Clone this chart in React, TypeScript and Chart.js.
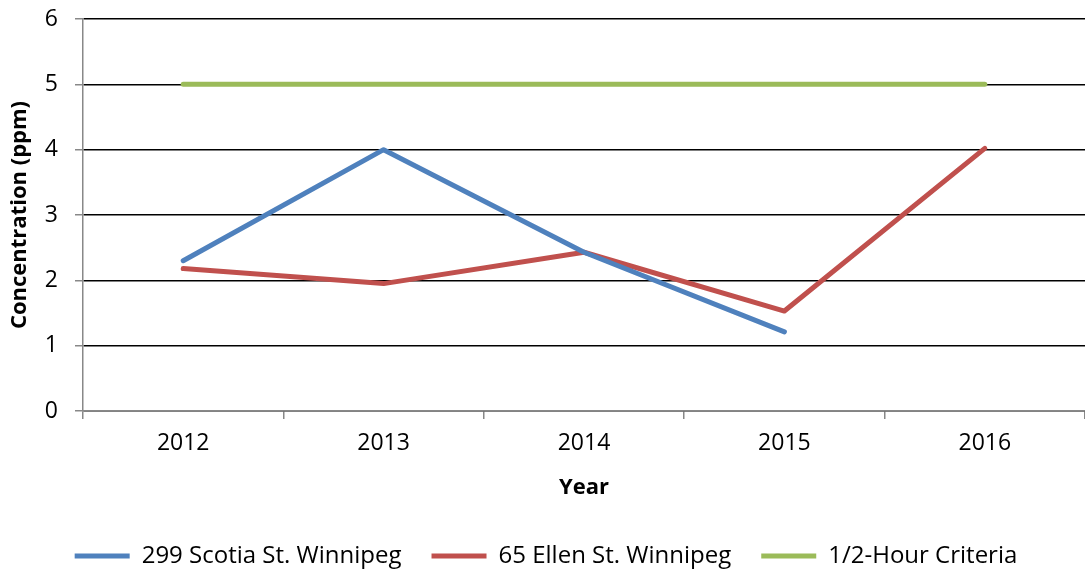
import React, { useEffect, useRef } from "react";
import { Chart, registerables } from "chart.js";

Chart.register(...registerables);

const years = ["2012", "2013", "2014", "2015", "2016"];
const scotia = [2.3, 4.0, 2.43, 1.21, null];
const ellen = [2.18, 1.95, 2.43, 1.53, 4.02];
const criteria = [5, 5, 5, 5, 5];
const yTicks = [0, 1, 2, 3, 4, 5, 6];

export default function App() {
  const ref = useRef<HTMLCanvasElement>(null);
  useEffect(() => {
    document.body.style.margin = "0";
    const font = "'Open Sans', 'Noto Sans', sans-serif";
    const chart = new Chart(ref.current!, {
      type: "line",
      data: {
        labels: years,
        datasets: [
          { label: "299 Scotia St. Winnipeg", data: scotia, borderColor: "#4F81BD", backgroundColor: "#4F81BD", borderWidth: 5, pointRadius: 0, borderCapStyle: "round", borderJoinStyle: "round" },
          { label: "65 Ellen St. Winnipeg", data: ellen, borderColor: "#C0504D", backgroundColor: "#C0504D", borderWidth: 5, pointRadius: 0, borderCapStyle: "round", borderJoinStyle: "round" },
          { label: "1/2-Hour Criteria", data: criteria, borderColor: "#9BBB59", backgroundColor: "#9BBB59", borderWidth: 5, pointRadius: 0, borderCapStyle: "round", borderJoinStyle: "round" },
        ],
      },
      options: {
        animation: false,
        responsive: false,
        layout: { padding: { top: 19, right: 0, left: 7, bottom: -9 } },
        plugins: {
          tooltip: { enabled: false },
          legend: {
            position: "bottom",
            labels: {
              color: "#000",
              font: { family: font, size: 24 },
              boxWidth: 55,
              boxHeight: 5,
              padding: 30,
              generateLabels: (c: any) =>
                c.data.datasets.map((d: any, i: number) => ({
                  text: d.label,
                  fillStyle: d.borderColor,
                  strokeStyle: d.borderColor,
                  lineWidth: 0,
                  datasetIndex: i,
                  hidden: false,
                  fontColor: "#000",
                })),
            },
          },
        },
        scales: {
          x: {
            type: "category",
            offset: true,
            grid: { offset: true, drawOnChartArea: false, drawTicks: true, tickLength: 8, color: "#888", lineWidth: 1.5 },
            border: { color: "#888", width: 1.5 },
            ticks: { color: "#000", font: { family: font, size: 23 }, padding: 11 },
            title: { display: true, text: "Year", color: "#000", font: { family: font, size: 22, weight: "bold" }, padding: { top: 6, bottom: 13 } },
          },
          y: {
            min: 0,
            max: 6,
            afterBuildTicks: (s: any) => { s.ticks = yTicks.map((v) => ({ value: v })); },
            afterFit: (s: any) => { s.width = 76; s.paddingTop = 0; },
            grid: { color: "#000", lineWidth: 1.5, tickColor: "#888", tickLength: 8, drawTicks: true },
            border: { color: "#888", width: 1.5 },
            ticks: { color: "#000", font: { family: font, size: 23 }, padding: 17 },
            title: { display: true, text: "Concentration (ppm)", color: "#000", font: { family: font, size: 22, weight: "bold" }, padding: { top: 0, bottom: 0 } },
          },
        },
      },
    });
    return () => chart.destroy();
  }, []);
  return (
    <div style={{ width: 1085, height: 569 }}>
      <canvas ref={ref} width={1085} height={569} style={{ display: "block" }} />
    </div>
  );
}
